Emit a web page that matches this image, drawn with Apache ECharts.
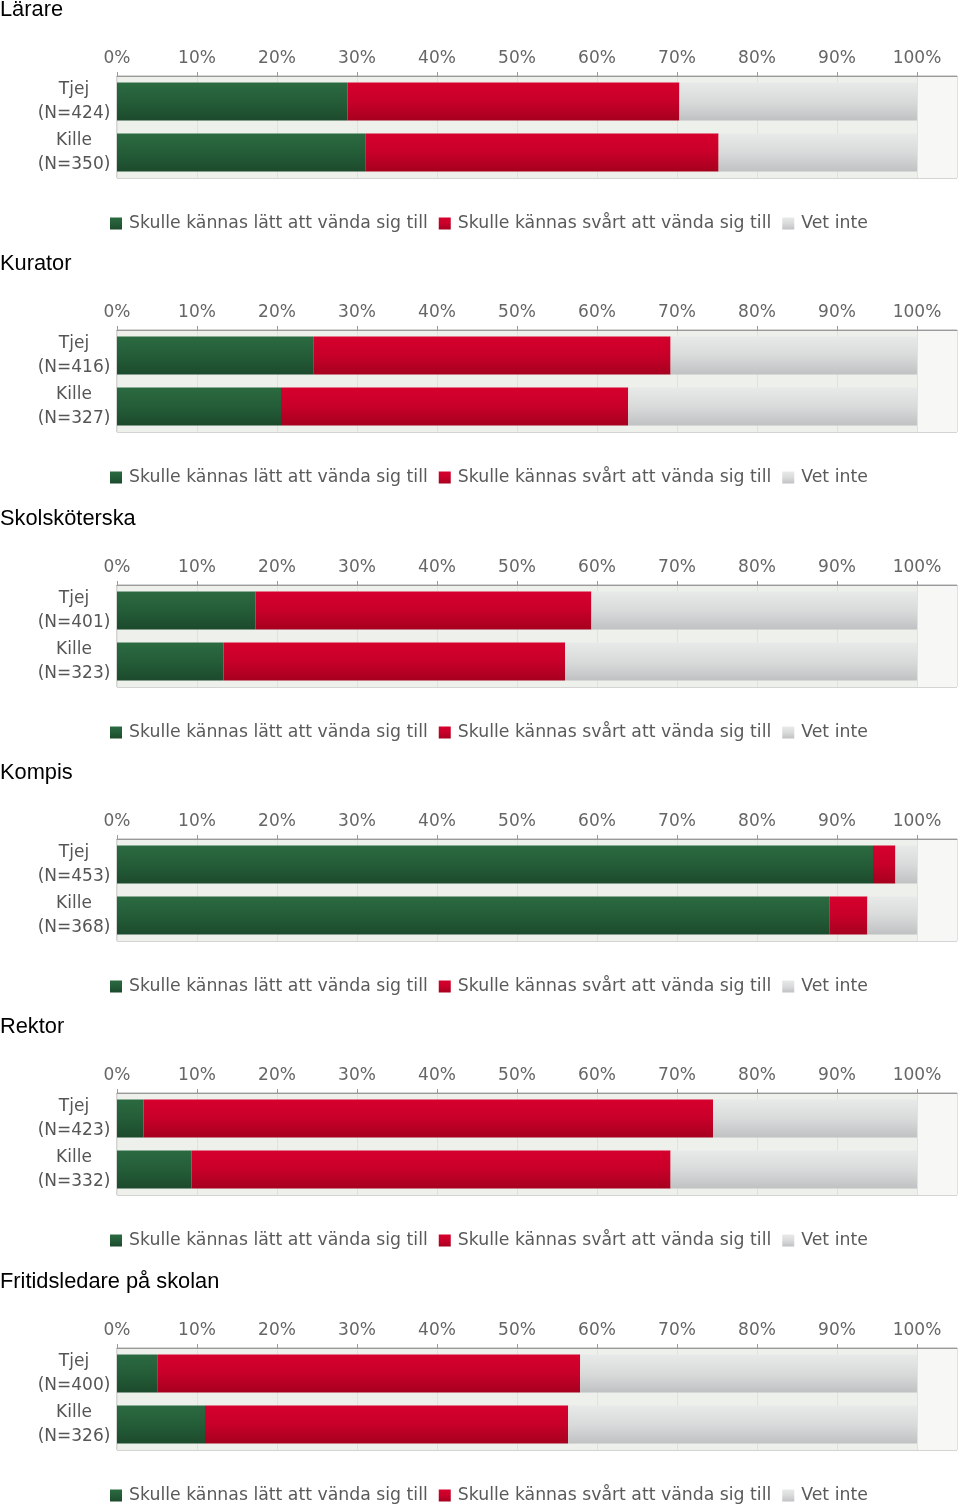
<!DOCTYPE html>
<html>
<head>
<meta charset="utf-8">
<script src="https://cdn.jsdelivr.net/npm/echarts@6/dist/echarts.min.js"></script>
<style>
html,body{margin:0;padding:0;background:#fff;}
#chart{width:960px;height:1505px;}
</style>
</head>
<body>
<div id="chart"></div>
<script>
// ---- data ----
const panelTitles = ['Lärare', 'Kurator', 'Skolsköterska', 'Kompis', 'Rektor', 'Fritidsledare på skolan'];
const groupLabels = [
  ['Tjej\n(N=424)', 'Kille\n(N=350)'],
  ['Tjej\n(N=416)', 'Kille\n(N=327)'],
  ['Tjej\n(N=401)', 'Kille\n(N=323)'],
  ['Tjej\n(N=453)', 'Kille\n(N=368)'],
  ['Tjej\n(N=423)', 'Kille\n(N=332)'],
  ['Tjej\n(N=400)', 'Kille\n(N=326)']
];
const seriesNames = ['Skulle kännas lätt att vända sig till', 'Skulle kännas svårt att vända sig till', 'Vet inte'];
const easyValues = [[28.8, 31.1], [24.6, 20.5], [17.3, 13.3], [94.5, 89.1], [3.3, 9.3], [5.1, 11.0]];
const hardValues = [[41.5, 44.1], [44.6, 43.4], [42.0, 42.7], [2.8, 4.7], [71.2, 59.9], [52.8, 45.4]];
const dontKnowValues = [[29.7, 24.8], [30.8, 36.1], [40.7, 44.0], [2.7, 6.2], [25.5, 30.8], [42.1, 43.6]];
const tickValues = [0, 10, 20, 30, 40, 50, 60, 70, 80, 90, 100];

// ---- styling ----
function grad(top, mid, bottom) {
  return {type: 'linear', x: 0, y: 0, x2: 0, y2: 1,
    colorStops: [{offset: 0, color: top}, {offset: 0.5, color: mid}, {offset: 1, color: bottom}]};
}
const seriesColors = [
  grad('#2b6a41', '#245d38', '#1c4a2c'),
  grad('#d6002d', '#c80029', '#a6001f'),
  grad('#e8eaea', '#d9dbdb', '#bfc1c3')
];
const grayFont = 'DejaVu Sans';
const panelStep = 254.3;

const titles = [], grids = [], xAxes = [], yAxes = [], legends = [], series = [];
const valueSets = [easyValues, hardValues, dontKnowValues];

panelTitles.forEach((t, i) => {
  const o = Math.round(i * panelStep);
  titles.push({
    text: t, left: 0, top: o - 1, padding: 0,
    textStyle: {fontFamily: 'Liberation Sans', fontSize: 21.8, fontWeight: 'normal', color: '#000'}
  });
  grids.push({
    left: 117, top: o + 76, width: 840, height: 102,
    show: true, backgroundColor: '#f7f8f5', borderColor: '#a9aaa8', borderWidth: 1
  });
  const splitColors = tickValues.slice(1).map(() => '#eef0eb').concat(['#f7f8f5']);
  xAxes.push({
    gridIndex: i, type: 'value', position: 'top', min: 0, max: 105, interval: 10,
    axisLine: {show: true, lineStyle: {color: '#9a9a9a'}},
    axisTick: {show: true, length: 4, lineStyle: {color: '#9a9a9a'}},
    axisLabel: {
      margin: 9, color: '#666', fontFamily: grayFont, fontSize: 17, showMaxLabel: false,
      formatter: v => (tickValues.indexOf(v) >= 0 ? v + '%' : '')
    },
    splitLine: {show: true, lineStyle: {color: '#e0e2dc'}},
    splitArea: {show: true, areaStyle: {color: splitColors}}
  });
  yAxes.push({
    gridIndex: i, type: 'category', inverse: true, data: groupLabels[i],
    axisLine: {show: false}, axisTick: {show: false},
    axisLabel: {interval: 0, hideOverlap: false, margin: 43, align: 'center', color: '#555',
      fontFamily: grayFont, fontSize: 17, lineHeight: 24, padding: [5, 0, 0, 0]}
  });
  legends.push({
    data: seriesNames, left: 110, top: o + 215, itemWidth: 12, itemHeight: 12, itemGap: 11,
    icon: 'rect', padding: 0,
    textStyle: {color: '#5a5a5a', fontFamily: grayFont, fontSize: 17.3, padding: [0, 0, 0, 2]}
  });
  seriesNames.forEach((name, k) => {
    series.push({
      name: name, type: 'bar', stack: 'p' + i, xAxisIndex: i, yAxisIndex: i,
      barWidth: 38, data: valueSets[k][i],
      itemStyle: {color: seriesColors[k]},
      emphasis: {disabled: true}
    });
  });
});

const chart = echarts.init(document.getElementById('chart'), null, {renderer: 'canvas'});
chart.setOption({
  animation: false,
  backgroundColor: '#fff',
  title: titles, grid: grids, xAxis: xAxes, yAxis: yAxes, legend: legends, series: series
});
</script>
</body>
</html>
